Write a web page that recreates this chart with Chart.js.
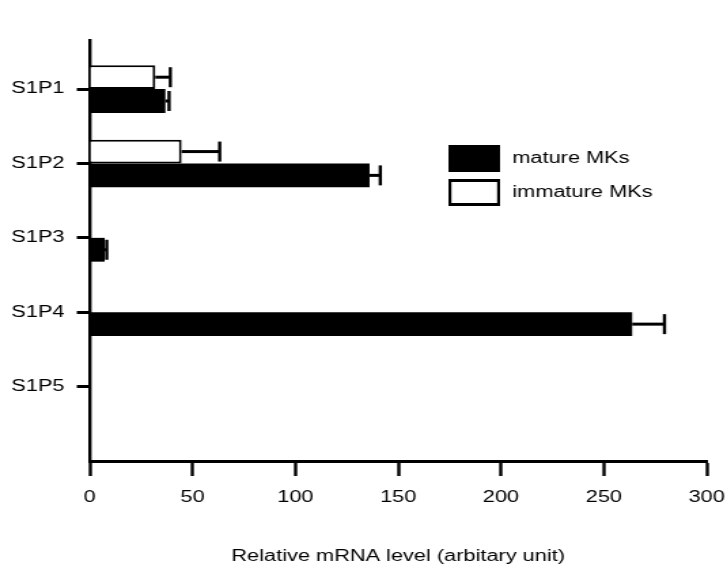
<!DOCTYPE html>
<html>
<head>
<meta charset="utf-8">
<script src="https://cdn.jsdelivr.net/npm/chart.js@4/dist/chart.umd.min.js"></script>
<style>
  body { margin: 0; background: #fff; }
  /* the source figure is stretched sideways, so draw narrow and widen */
  #wrap { width: 535px; height: 566px; transform: scaleX(1.3589); transform-origin: 0 0; }
</style>
</head>
<body>
<div id="wrap"><canvas id="chart" width="535" height="566"></canvas></div>
<script>
const categories = ['S1P1', 'S1P2', 'S1P3', 'S1P4', 'S1P5'];
const matureValues = [36.8, 136.1, 7.3, 263.8, 0];
const matureErrors = [1.8, 5.2, 1, 15.7, 0];
const immatureValues = [31.9, 44.7, 0, 0, 0];
const immatureErrors = [7.3, 18.5, 0, 0, 0];
const xTicks = [0, 50, 100, 150, 200, 250, 300];

const font = { family: "Arial, 'Liberation Sans', sans-serif", size: 16 };

// each category sits at position 1..5 on a linear axis
const toPoints = values => values.map((v, i) => ({ x: v, y: i + 1 }));

// error bars on the right end of each bar
const errorBars = {
    id: 'errorBars',
    afterDatasetsDraw(chart) {
        const ctx = chart.ctx;
        const xScale = chart.scales.x;
        chart.data.datasets.forEach((ds, di) => {
            const meta = chart.getDatasetMeta(di);
            meta.data.forEach((bar, i) => {
                const v = ds.data[i].x;
                const err = ds.errors[i];
                if (!v || !err) return;
                const x0 = xScale.getPixelForValue(v);
                const x1 = xScale.getPixelForValue(v + err);
                ctx.save();
                ctx.strokeStyle = '#000';
                ctx.lineWidth = 3;
                ctx.beginPath();
                ctx.moveTo(x0, bar.y);
                ctx.lineTo(x1, bar.y);
                ctx.stroke();
                ctx.lineWidth = 2.4;
                ctx.beginPath();
                ctx.moveTo(x1, bar.y - 10);
                ctx.lineTo(x1, bar.y + 10);
                ctx.stroke();
                ctx.restore();
            });
        });
    }
};

// legend box on the right, mature first
const boxLegend = {
    id: 'boxLegend',
    afterDraw(chart) {
        const ctx = chart.ctx;
        const order = [1, 0];
        ctx.save();
        ctx.font = `${font.size}px ${font.family}`;
        ctx.textBaseline = 'middle';
        order.forEach((di, k) => {
            const ds = chart.data.datasets[di];
            const top = 145 + k * 34;
            ctx.fillStyle = '#000';
            ctx.fillRect(330, top, 38, 27);
            if (ds.backgroundColor !== '#000') {
                ctx.fillStyle = ds.backgroundColor;
                ctx.fillRect(332.2, top + 3, 33.6, 21);
            }
            ctx.fillStyle = '#000';
            ctx.fillText(ds.label, 377, top + 14);
        });
        ctx.restore();
    }
};

new Chart(document.getElementById('chart').getContext('2d'), {
    type: 'bar',
    data: {
        datasets: [{
            label: 'immature MKs',
            data: toPoints(immatureValues),
            errors: immatureErrors,
            backgroundColor: '#fff',
            borderColor: '#000',
            borderWidth: 2,
        }, {
            label: 'mature MKs',
            data: toPoints(matureValues),
            errors: matureErrors,
            backgroundColor: '#000',
            borderColor: '#000',
            borderWidth: 0,
        }]
    },
    options: {
        indexAxis: 'y',
        responsive: false,
        animation: false,
        devicePixelRatio: 1,
        categoryPercentage: 0.64,
        barPercentage: 1,
        layout: { padding: { top: 40, right: 15, left: 0, bottom: 0 } },
        plugins: { legend: { display: false }, tooltip: { enabled: false } },
        scales: {
            x: {
                type: 'linear',
                min: 0,
                max: 300,
                afterBuildTicks: scale => { scale.ticks = xTicks.map(v => ({ value: v })); },
                afterFit: scale => {
                    scale.height = 105;
                    scale.paddingLeft = 0;
                    scale.paddingRight = 0;
                },
                grid: { drawOnChartArea: false, tickLength: 15, tickColor: '#000', tickWidth: 2.4 },
                border: { color: '#000', width: 3 },
                ticks: { color: '#000', font: font, padding: 12, maxRotation: 0 },
                title: {
                    display: true,
                    text: 'Relative mRNA level (arbitary unit)',
                    color: '#000',
                    font: font,
                    padding: { top: 4, bottom: 0 }
                }
            },
            y: {
                type: 'linear',
                reverse: true,
                offset: false,
                min: 0.34,
                max: 6,
                afterBuildTicks: scale => { scale.ticks = categories.map((c, i) => ({ value: i + 1 })); },
                afterFit: scale => { scale.width = 66; },
                grid: { offset: false, drawOnChartArea: false, tickLength: 9.5, tickColor: '#000', tickWidth: 3 },
                border: { color: '#000', width: 2.4 },
                ticks: {
                    color: '#000',
                    font: font,
                    padding: 9,
                    callback: v => categories[v - 1]
                }
            }
        }
    },
    plugins: [errorBars, boxLegend]
});
</script>
</body>
</html>
